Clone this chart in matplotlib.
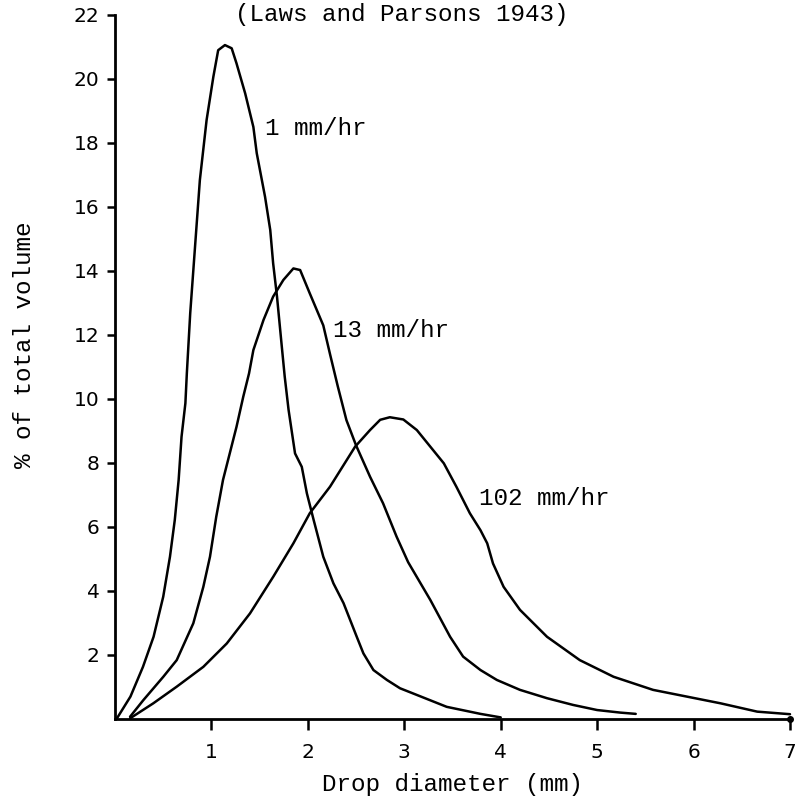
import matplotlib
matplotlib.use("Agg")
import matplotlib.pyplot as plt

# Drop-size distributions for three rainfall intensities (Laws and Parsons 1943)
d_1mm = [0.02, 0.16, 0.29, 0.40, 0.50, 0.57, 0.62, 0.66, 0.69, 0.73, 0.745, 0.78,
         0.83, 0.88, 0.95, 1.02, 1.07, 1.14, 1.21, 1.26, 1.35, 1.435, 1.47, 1.556,
         1.61, 1.64, 1.68, 1.73, 1.76, 1.80, 1.867, 1.937, 1.99, 2.06, 2.16, 2.265,
         2.37, 2.507, 2.576, 2.68, 2.82, 2.956, 3.09, 3.44, 3.79, 4.00]
v_1mm = [0.02, 0.70, 1.63, 2.57, 3.82, 5.07, 6.22, 7.47, 8.82, 9.87, 10.8, 12.68,
         14.76, 16.84, 18.72, 20.07, 20.9, 21.06, 20.96, 20.49, 19.55, 18.5, 17.68, 16.32,
         15.28, 14.24, 13.2, 11.63, 10.7, 9.66, 8.30, 7.88, 7.05, 6.22, 5.07, 4.24,
         3.62, 2.57, 2.05, 1.53, 1.22, 0.96, 0.80, 0.38, 0.16, 0.05]

d_13mm = [0.156, 0.294, 0.501, 0.640, 0.812, 0.916, 0.985, 1.05, 1.12, 1.19, 1.26, 1.33,
          1.39, 1.435, 1.54, 1.64, 1.746, 1.85, 1.92, 2.02, 2.16, 2.23, 2.31, 2.40,
          2.50, 2.645, 2.78, 2.92, 3.04, 3.27, 3.475, 3.61, 3.79, 3.96, 4.20, 4.48,
          4.75, 5.00, 5.24, 5.40]
v_13mm = [0.07, 0.59, 1.32, 1.84, 2.99, 4.13, 5.07, 6.32, 7.47, 8.30, 9.13, 10.07,
          10.8, 11.53, 12.47, 13.2, 13.72, 14.08, 14.03, 13.3, 12.3, 11.4, 10.4, 9.34,
          8.55, 7.57, 6.74, 5.70, 4.9, 3.72, 2.57, 1.95, 1.53, 1.22, 0.91, 0.65,
          0.44, 0.28, 0.2, 0.16]

d_102mm = [0.156, 0.397, 0.64, 0.916, 1.159, 1.40, 1.642, 1.85, 2.02, 2.23, 2.49, 2.645,
           2.75, 2.85, 2.99, 3.13, 3.27, 3.41, 3.54, 3.68, 3.79, 3.86, 3.92, 4.03,
           4.20, 4.48, 4.82, 5.17, 5.58, 5.93, 6.28, 6.66, 7.00]
v_102mm = [0.02, 0.49, 1.01, 1.63, 2.36, 3.30, 4.45, 5.49, 6.43, 7.26, 8.51, 9.03,
           9.35, 9.43, 9.36, 9.03, 8.51, 7.99, 7.26, 6.43, 5.9, 5.49, 4.86, 4.13,
           3.41, 2.57, 1.84, 1.32, 0.91, 0.70, 0.49, 0.23, 0.15]

rates = ["1 mm/hr", "13 mm/hr", "102 mm/hr"]
label_pos = [(1.56, 18.45), (2.26, 12.15), (3.77, 6.9)]

x_ticks = [1, 2, 3, 4, 5, 6, 7]
y_ticks = [2, 4, 6, 8, 10, 12, 14, 16, 18, 20, 22]

mono = "Liberation Mono"
W, H = 796, 798
fig = plt.figure(figsize=(W / 100, H / 100), dpi=100)
ax = fig.add_axes([115 / W, (H - 719) / H, 675 / W, 704 / H])

lw = 1.8
for xs, ys in [(d_1mm, v_1mm), (d_13mm, v_13mm), (d_102mm, v_102mm)]:
    ax.plot(xs, ys, color="black", lw=lw, solid_joinstyle="round",
            solid_capstyle="round", clip_on=False)

for text, (tx, ty) in zip(rates, label_pos):
    ax.text(tx, ty, text, fontsize=17.5, family=mono, ha="left", va="center")

ax.set_xlim(0, 7)
ax.set_ylim(0, 22)
ax.set_xticks(x_ticks)
ax.set_yticks(y_ticks)
ax.set_xticklabels([str(t) for t in x_ticks])
ax.set_yticklabels([str(t) for t in y_ticks])

for side in ("top", "right"):
    ax.spines[side].set_visible(False)
for side in ("left", "bottom"):
    ax.spines[side].set_linewidth(2.0)

ax.tick_params(axis="both", direction="out", width=1.8, labelsize=14.5,
               colors="black")
ax.tick_params(axis="y", length=6, pad=5)
ax.tick_params(axis="x", length=8, pad=9)

ax.plot([7], [0], marker="o", ms=4, color="black", clip_on=False)

ax.set_xlabel("Drop diameter (mm)", family=mono, fontsize=17.5, labelpad=8)
fig.text(25 / W, 1 - 345 / H, "% of total volume", family=mono, fontsize=17.5,
         rotation=90, ha="center", va="center")
fig.text(402 / W, 1 - 15 / H, "(Laws and Parsons 1943)", family=mono,
         fontsize=17.5, ha="center", va="center")

fig.savefig("out.png", dpi=100)
